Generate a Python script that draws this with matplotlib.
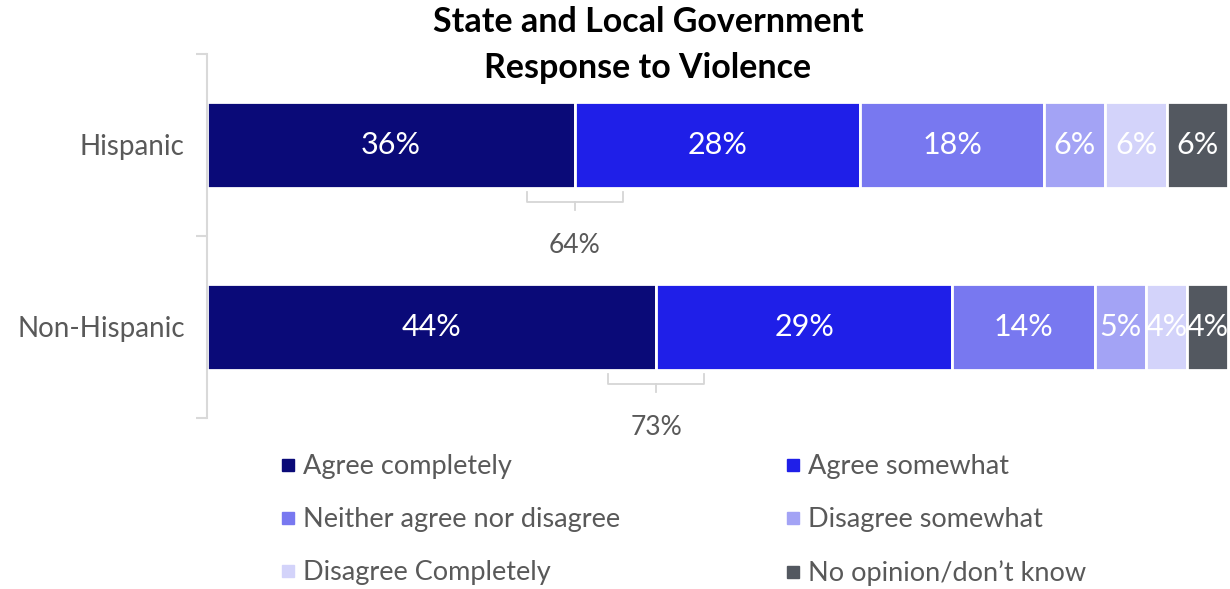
import matplotlib.pyplot as plt
from matplotlib.lines import Line2D

plt.rcParams['font.family'] = ['Lato', 'DejaVu Sans']

groups = ["Hispanic", "Non-Hispanic"]
responses = ["Agree completely", "Agree somewhat", "Neither agree nor disagree",
             "Disagree somewhat", "Disagree Completely", "No opinion/don\u2019t know"]
hispanic = [36, 28, 18, 6, 6, 6]
non_hispanic = [44, 29, 14, 5, 4, 4]
colors = ["#0a0a78", "#1f1fe8", "#7878f0", "#a3a3f5", "#d3d3fa", "#535860"]

values = [hispanic, non_hispanic]
grey = "#595959"

fig = plt.figure(figsize=(12.3, 5.89), dpi=100)
ax = fig.add_axes([207 / 1230, 1 - 418 / 589, 1021 / 1230, 364 / 589])

for i, row in enumerate(values):
    left = 0
    for j, v in enumerate(row):
        ax.barh(i, v, left=left, height=0.47, color=colors[j],
                edgecolor="white", linewidth=2)
        ax.text(left + v / 2, i, f"{v}%", ha="center", va="center",
                color="white", fontsize=22)
        left += v

    # bracket under the two "agree" segments
    mid = row[0]
    half = 4.7
    ax.plot([mid - half, mid - half, mid + half, mid + half],
            [i + 0.258, i + 0.313, i + 0.313, i + 0.258],
            color="#d6d6d6", linewidth=1.3, clip_on=False)
    ax.plot([mid, mid], [i + 0.313, i + 0.357], color="#d6d6d6",
            linewidth=1.3, clip_on=False)
    ax.text(mid, i + 0.55, f"{row[0] + row[1]}%", ha="center", va="center",
            color=grey, fontsize=19)

ax.set_xlim(0, 100)
ax.set_ylim(1.5, -0.5)
ax.set_xticks([])
ax.set_yticks([0, 1])
ax.set_yticklabels(groups, fontsize=20, color=grey)
ax.tick_params(axis="y", which="major", length=0, pad=16)
ax.set_yticks([-0.5, 0.5, 1.5], minor=True)
ax.tick_params(axis="y", which="minor", length=8, width=1.5, color="#d9d9d9")
for s in ["top", "right", "bottom"]:
    ax.spines[s].set_visible(False)
ax.spines["left"].set_color("#d9d9d9")
ax.spines["left"].set_linewidth(1.5)

fig.text(648 / 1230, 1 - 6 / 589, "State and Local Government\nResponse to Violence",
         ha="center", va="top", fontsize=24.5, fontweight="bold",
         linespacing=1.55, color="black")

handles = [Line2D([], [], marker="s", linestyle="none", color=c, markersize=8)
           for c in colors]
for col in range(2):
    idx = [col, col + 2, col + 4]
    fig.legend([handles[k] for k in idx], [responses[k] for k in idx],
               loc="upper left",
               bbox_to_anchor=((281 + col * 505) / 1230, 1 - 454 / 589),
               frameon=False, fontsize=19.5, labelcolor=grey,
               handlelength=0.5, handletextpad=0.3, labelspacing=1.04,
               borderpad=0, borderaxespad=0)

fig.savefig("out.png", dpi=100)
